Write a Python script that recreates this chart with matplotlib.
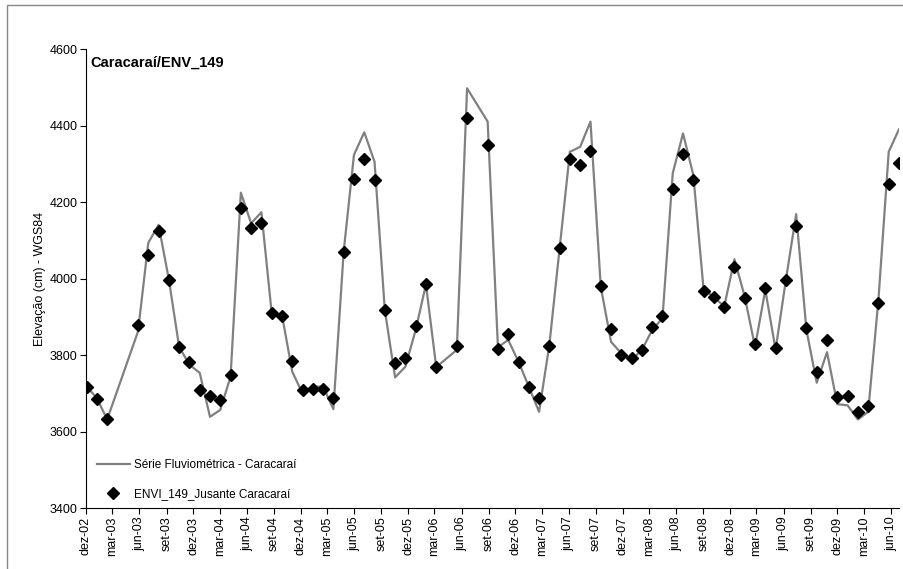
import matplotlib
matplotlib.use("Agg")
import matplotlib.dates as mdates
import matplotlib.pyplot as plt
import numpy as np
import pandas as pd
from matplotlib.patches import Rectangle

plt.rcParams["font.family"] = ["Liberation Sans", "DejaVu Sans"]

# ENVISAT pass dates (35-day repeat), gaps where no data
dates = [
    "2002-12-03", "2003-01-07", "2003-02-11", "2003-05-27", "2003-07-01",
    "2003-08-05", "2003-09-09", "2003-10-14", "2003-11-18", "2003-12-23",
    "2004-01-27", "2004-03-02", "2004-04-06", "2004-05-11", "2004-06-15",
    "2004-07-20", "2004-08-24", "2004-09-28", "2004-11-02", "2004-12-07",
    "2005-01-11", "2005-02-15", "2005-03-22", "2005-04-26", "2005-05-31",
    "2005-07-05", "2005-08-09", "2005-09-13", "2005-10-18", "2005-11-22",
    "2005-12-27", "2006-01-31", "2006-03-07", "2006-05-16", "2006-06-20",
    "2006-08-29", "2006-10-03", "2006-11-07", "2006-12-12", "2007-01-16",
    "2007-02-20", "2007-03-27", "2007-05-01", "2007-06-05", "2007-07-10",
    "2007-08-14", "2007-09-18", "2007-10-23", "2007-11-27", "2008-01-01",
    "2008-02-05", "2008-03-11", "2008-04-15", "2008-05-20", "2008-06-24",
    "2008-07-29", "2008-09-02", "2008-10-07", "2008-11-11", "2008-12-16",
    "2009-01-20", "2009-02-24", "2009-03-31", "2009-05-05", "2009-06-09",
    "2009-07-14", "2009-08-18", "2009-09-22", "2009-10-27", "2009-12-01",
    "2010-01-05", "2010-02-09", "2010-03-16", "2010-04-20", "2010-05-25",
    "2010-06-29",
]

# Série fluviométrica (cm)
fluvio = [
    3718, 3688, 3632, 3862, 4094, 4141, 3998, 3822, 3775, 3754,
    3639, 3657, 3744, 4225, 4145, 4174, 3910, 3905, 3757, 3700,
    3718, 3718, 3659, 4071, 4324, 4383, 4306, 3918, 3742, 3770,
    3866, 3985, 3769, 3814, 4498, 4411, 3821, 3840, 3783, 3718,
    3652, 3827, 4080, 4332, 4345, 4411, 3979, 3835, 3805, 3788,
    3814, 3866, 3897, 4276, 4380, 4271, 3971, 3953, 3927, 4051,
    3953, 3822, 3971, 3814, 3997, 4169, 3866, 3728, 3808, 3672,
    3669, 3632, 3652, 3945, 4332, 4391,
]

# ENVI_149 altimetria (cm)
envi = [
    3718, 3685, 3632, 3878, 4061, 4124, 3998, 3822, 3783, 3709,
    3694, 3683, 3748, 4184, 4134, 4145, 3911, 3903, 3784, 3710,
    3711, 3712, 3687, 4071, 4261, 4314, 4257, 3918, 3780, 3793,
    3877, 3985, 3769, 3825, 4420, 4351, 3816, 3856, 3782, 3717,
    3688, 3823, 4081, 4313, 4298, 4335, 3982, 3869, 3801, 3794,
    3814, 3873, 3902, 4235, 4326, 4258, 3969, 3952, 3926, 4032,
    3949, 3830, 3976, 3818, 3998, 4138, 3872, 3757, 3840, 3692,
    3693, 3652, 3667, 3937, 4249, 4303,
]

meses = ["jan", "fev", "mar", "abr", "mai", "jun",
         "jul", "ago", "set", "out", "nov", "dez"]

x = pd.to_datetime(dates)

W, H = 904, 569
fig = plt.figure(figsize=(W / 100, H / 100), dpi=100)
ax = fig.add_axes([86 / W, 1 - 508.2 / H, (899 - 86) / W, (508.2 - 49.3) / H])

# chart area border (Excel style)
fig.patches.append(Rectangle((7 / W, -0.1), 1.2, 1 - 5 / H + 0.1,
                             transform=fig.transFigure, fill=False,
                             edgecolor="#868686", linewidth=1.0))

ax.plot(x, fluvio, color="#808080", linewidth=1.6,
        label="Série Fluviométrica - Caracaraí", zorder=2)
ax.plot(x, envi, linestyle="none", marker="D", markersize=5.8,
        color="black", label="ENVI_149_Jusante Caracaraí", zorder=3)

ax.set_xlim(pd.Timestamp("2002-12-01"), pd.Timestamp("2010-06-29"))
ax.set_ylim(3400, 4600)
ax.set_yticks(np.arange(3400, 4601, 200))

ax.xaxis.set_major_locator(mdates.MonthLocator(bymonth=[3, 6, 9, 12]))
ax.xaxis.set_major_formatter(
    plt.FuncFormatter(lambda v, pos: "%s-%s" % (
        meses[mdates.num2date(v).month - 1], mdates.num2date(v).strftime("%y"))))
plt.setp(ax.get_xticklabels(), rotation=90)

for s in ["top", "right"]:
    ax.spines[s].set_visible(False)
for s in ["left", "bottom"]:
    ax.spines[s].set_color("black")
    ax.spines[s].set_linewidth(0.8)
ax.tick_params(axis="both", direction="out", length=4, width=0.8,
               labelsize=9, pad=2)

ax.set_ylabel("Elevação (cm) - WGS84", fontsize=9)
ax.yaxis.set_label_coords((46 - 86) / (899 - 86), 0.5)

fig.text(90 / W, 1 - 63 / H, "Caracaraí/ENV_149", fontsize=10.5,
         fontweight="bold", ha="left", va="center")

ax.legend(loc="lower left", bbox_to_anchor=(0.0, -0.005), frameon=False,
          fontsize=8.5, handlelength=2.8, labelspacing=1.45, handletextpad=0.4)

fig.savefig("out.png", dpi=100)
